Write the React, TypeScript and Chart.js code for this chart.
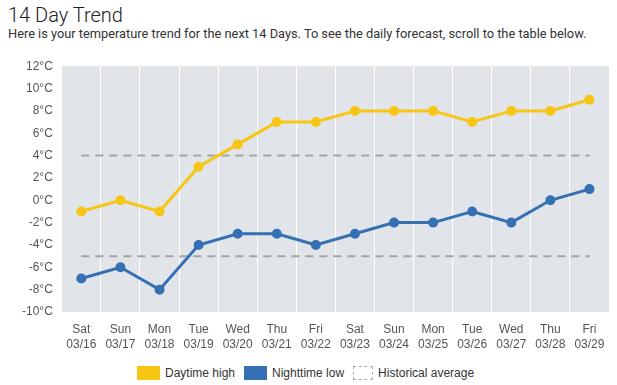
import React, { useEffect, useRef } from "react";
import { Chart, registerables } from "chart.js";

Chart.register(...registerables);

const days = ["Sat", "Sun", "Mon", "Tue", "Wed", "Thu", "Fri", "Sat", "Sun", "Mon", "Tue", "Wed", "Thu", "Fri"];
const dates = ["03/16", "03/17", "03/18", "03/19", "03/20", "03/21", "03/22", "03/23", "03/24", "03/25", "03/26", "03/27", "03/28", "03/29"];
const daytimeHigh = [-1, 0, -1, 3, 5, 7, 7, 8, 8, 8, 7, 8, 8, 9];
const nighttimeLow = [-7, -6, -8, -4, -3, -3, -4, -3, -2, -2, -1, -2, 0, 1];
const historicalHigh = 4;
const historicalLow = -5;

const HIGH_COLOR = "#f7c514";
const LOW_COLOR = "#3570b5";
const AVG_COLOR = "#a3a3a3";

const bgPlugin = {
  id: "plotBg",
  beforeDraw(chart: any) {
    const { ctx, chartArea } = chart;
    ctx.save();
    ctx.fillStyle = "#e1e4e8";
    ctx.fillRect(chartArea.left, chartArea.top, chartArea.right - chartArea.left, chartArea.bottom - chartArea.top);
    ctx.restore();
  },
};

const legendItems = [
  { label: "Daytime high", color: HIGH_COLOR, dashed: false },
  { label: "Nighttime low", color: LOW_COLOR, dashed: false },
  { label: "Historical average", color: "transparent", dashed: true },
];

export default function App() {
  const ref = useRef<HTMLCanvasElement>(null);
  useEffect(() => {
    document.body.style.margin = "0";
    const labels = days.map((d, i) => [d, dates[i]]);
    const chart = new Chart(ref.current!, {
      type: "line",
      data: {
        labels,
        datasets: [
          {
            label: "Daytime high",
            data: daytimeHigh,
            borderColor: HIGH_COLOR,
            backgroundColor: HIGH_COLOR,
            borderWidth: 3,
            pointRadius: 3.5,
            pointHoverRadius: 3.5,
          },
          {
            label: "Nighttime low",
            data: nighttimeLow,
            borderColor: LOW_COLOR,
            backgroundColor: LOW_COLOR,
            borderWidth: 3,
            pointRadius: 3.5,
            pointHoverRadius: 3.5,
          },
          {
            label: "Historical average",
            data: daytimeHigh.map(() => historicalHigh),
            borderColor: AVG_COLOR,
            borderWidth: 2,
            borderDash: [8, 6],
            pointRadius: 0,
          },
          {
            label: "Historical average low",
            data: nighttimeLow.map(() => historicalLow),
            borderColor: AVG_COLOR,
            borderWidth: 2,
            borderDash: [8, 6],
            pointRadius: 0,
          },
        ],
      },
      options: {
        animation: false,
        responsive: false,
        layout: { padding: { left: 13, right: 8, top: 6, bottom: 2 } },
        plugins: {
          tooltip: { enabled: false },
          legend: { display: false },
        },
        scales: {
          x: {
            offset: true,
            grid: { color: "#ffffff", lineWidth: 1, drawTicks: false, offset: true },
            border: { display: false },
            ticks: {
              color: "#555",
              font: { family: "Arial, 'Liberation Sans'", size: 12, lineHeight: 1.25 },
              padding: 10,
              maxRotation: 0,
              autoSkip: false,
            },
          },
          y: {
            min: -10,
            max: 12,
            grid: { display: false, drawTicks: false },
            border: { display: false },
            ticks: {
              stepSize: 2,
              color: "#555",
              font: { family: "Arial, 'Liberation Sans'", size: 12 },
              padding: 9,
              callback: (v: any) => v + "°C",
            },
          },
        },
      },
      plugins: [bgPlugin],
    });
    return () => chart.destroy();
  }, []);
  return (
    <div style={{ position: "relative", width: 617, height: 385, background: "#fff", overflow: "hidden" }}>
      <div style={{ position: "absolute", left: 8, top: 3, fontFamily: "Roboto", fontWeight: 300, fontSize: 20, color: "#222", whiteSpace: "nowrap" }}>
        14 Day Trend
      </div>
      <div style={{ position: "absolute", left: 8, top: 26, fontFamily: "Roboto", fontSize: 12.8, color: "#333", whiteSpace: "nowrap" }}>
        Here is your temperature trend for the next 14 Days. To see the daily forecast, scroll to the table below.
      </div>
      <canvas ref={ref} width={617} height={314} style={{ position: "absolute", left: 0, top: 50 }} />
      <div style={{ position: "absolute", left: 137, top: 366, display: "flex", alignItems: "center", fontFamily: "Arial, 'Liberation Sans'", fontSize: 12, color: "#333", whiteSpace: "nowrap" }}>
        {legendItems.map((it) => (
          <div key={it.label} style={{ display: "flex", alignItems: "center", marginRight: 9 }}>
            <span
              style={{
                display: "inline-block",
                boxSizing: "border-box",
                width: it.dashed ? 20 : 23,
                height: 14,
                background: it.color,
                border: it.dashed ? "1px dashed #aaa" : "none",
                marginRight: 5,
              }}
            />
            <span>{it.label}</span>
          </div>
        ))}
      </div>
    </div>
  );
}
